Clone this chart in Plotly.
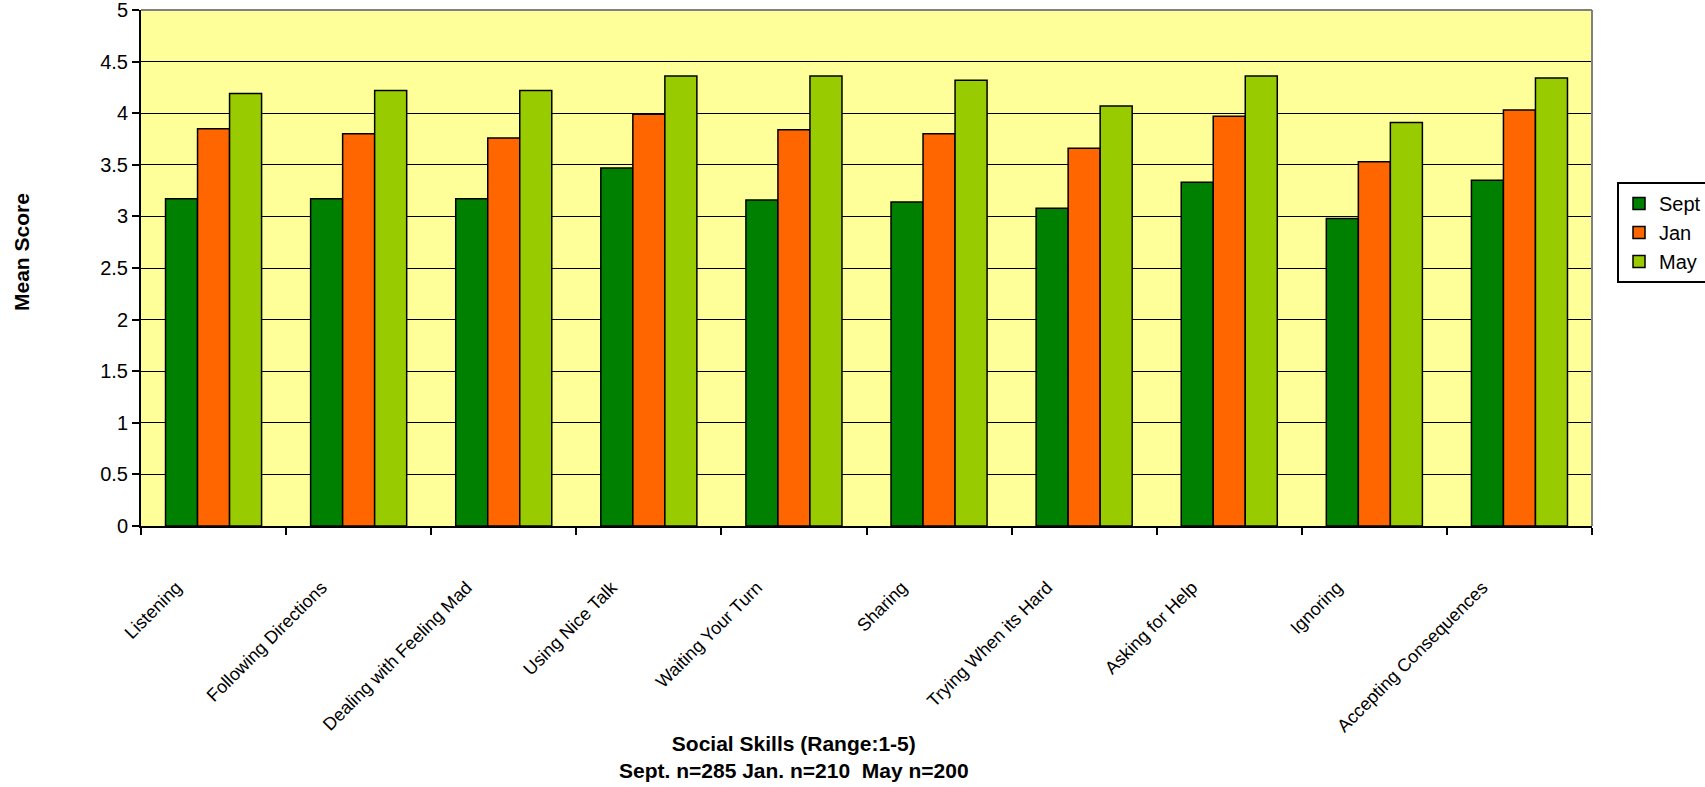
import plotly.graph_objects as go

# Social skills survey: mean scores at three points in the school year
skills = [
    "Listening",
    "Following Directions",
    "Dealing with Feeling Mad",
    "Using Nice Talk",
    "Waiting Your Turn",
    "Sharing",
    "Trying When its Hard",
    "Asking for Help",
    "Ignoring",
    "Accepting Consequences",
]
sept_scores = [3.17, 3.17, 3.17, 3.47, 3.16, 3.14, 3.08, 3.33, 2.98, 3.35]
jan_scores = [3.85, 3.80, 3.76, 3.99, 3.84, 3.80, 3.66, 3.97, 3.53, 4.03]
may_scores = [4.19, 4.22, 4.22, 4.36, 4.36, 4.32, 4.07, 4.36, 3.91, 4.34]

series = [
    ("Sept", sept_scores, "#008000"),
    ("Jan", jan_scores, "#FF6600"),
    ("May", may_scores, "#99CC00"),
]

W, H = 1705, 787
ML, MR, MT, MB = 141, 113, 10, 261
plot_w = W - ML - MR
plot_h = H - MT - MB

fig = go.Figure()
for name, vals, color in series:
    fig.add_trace(
        go.Bar(
            x=skills,
            y=vals,
            name=name,
            marker=dict(color=color, line=dict(color="black", width=1.5)),
        )
    )

base_font = "Liberation Sans, Arial, sans-serif"

fig.update_layout(
    width=W,
    height=H,
    margin=dict(l=ML, r=MR, t=MT, b=MB, autoexpand=False),
    paper_bgcolor="white",
    plot_bgcolor="#FFFF99",
    barmode="group",
    bargap=0.338,
    bargroupgap=0,
    font=dict(family=base_font, color="black"),
    showlegend=True,
    legend=dict(
        x=(1617 - ML) / plot_w,
        y=(H - MB - 182) / plot_h,
        xanchor="left",
        yanchor="top",
        bgcolor="white",
        bordercolor="black",
        borderwidth=2,
        font=dict(size=20, family=base_font),
        tracegroupgap=0,
    ),
)

fig.update_yaxes(
    range=[0, 5],
    dtick=0.5,
    tick0=0,
    showgrid=True,
    gridcolor="black",
    gridwidth=1,
    zeroline=False,
    showline=True,
    linecolor="black",
    linewidth=2,
    ticks="outside",
    ticklen=7,
    tickwidth=2,
    tickcolor="black",
    tickfont=dict(size=20, family=base_font),
    ticklabeloverflow="allow",
    fixedrange=True,
)

fig.update_xaxes(
    type="category",
    showgrid=False,
    zeroline=False,
    showline=True,
    linecolor="black",
    linewidth=2,
    ticks="outside",
    tickson="boundaries",
    ticklen=7,
    tickwidth=2,
    tickcolor="black",
    tickangle=-45,
    ticklabelstandoff=42,
    ticklabelshift=-37,
    tickfont=dict(size=18, family=base_font),
    fixedrange=True,
)

# grey frame on the top and right of the plotting area
fig.add_shape(type="line", xref="paper", yref="paper", x0=0, x1=1, y0=1, y1=1,
              line=dict(color="#808080", width=2))
fig.add_shape(type="line", xref="paper", yref="paper", x0=1, x1=1, y0=0, y1=1,
              line=dict(color="#808080", width=2))

# axis titles
fig.add_annotation(
    text="<b>Mean Score</b>",
    xref="paper", yref="paper",
    x=(22 - ML) / plot_w, y=(H - MB - 252) / plot_h,
    xanchor="center", yanchor="middle",
    textangle=-90, showarrow=False,
    font=dict(size=21, family=base_font),
)
fig.add_annotation(
    text="<b>Social Skills (Range:1-5)</b><br><b>Sept. n=285 Jan. n=210  May n=200</b>",
    xref="paper", yref="paper",
    x=(794 - ML) / plot_w, y=(H - MB - 757) / plot_h,
    xanchor="center", yanchor="middle",
    showarrow=False,
    font=dict(size=21, family=base_font),
)

fig.write_html("out.html", config={"displayModeBar": False})
